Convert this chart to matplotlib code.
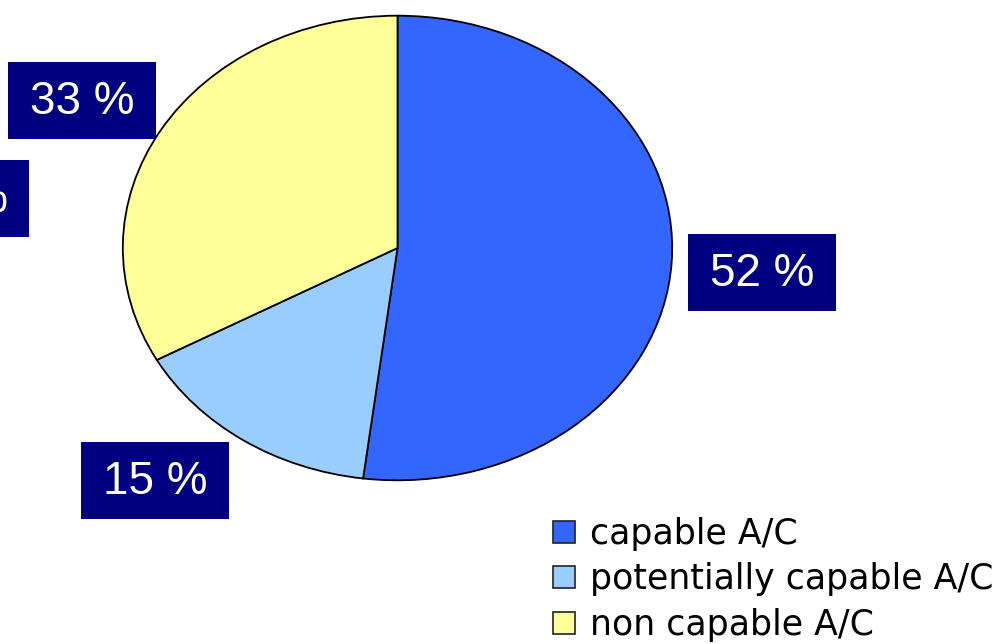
import matplotlib.pyplot as plt
from matplotlib.patches import Rectangle

# share of aircraft by capability
categories = ['capable A/C', 'potentially capable A/C', 'non capable A/C']
shares = [52, 15, 33]
colors = ['#3366FF', '#99CCFF', '#FFFF99']

W, H = 996, 644
fig = plt.figure(figsize=(W / 100, H / 100), dpi=100)

# pie is drawn into a wide axes with free aspect, so it comes out elliptical
ax = fig.add_axes([122 / W, 163 / H, 551 / W, 466 / H])
wedges, _ = ax.pie(shares, colors=colors, startangle=90, counterclock=False,
                   radius=1.0,
                   wedgeprops=dict(edgecolor='black', linewidth=1.3))
ax.set_aspect('auto')
ax.set_xlim(-1.003, 1.003)
ax.set_ylim(-1.003, 1.003)
ax.axis('off')

# data label boxes (pixel positions: left, top)
box_w, box_h = 148, 77
label_pos = [(688, 234), (81, 442), (8, 62)]


def label_box(left, top, text, ha='center'):
    bottom = H - top - box_h
    fig.patches.append(Rectangle((left / W, bottom / H), box_w / W, box_h / H,
                                 transform=fig.transFigure,
                                 facecolor='#000080', edgecolor='none'))
    if ha == 'center':
        x = (left + box_w / 2) / W
    else:
        x = (left + box_w - 21) / W
    fig.text(x, (bottom + box_h / 2 - 1) / H, text, ha=ha, va='center',
             color='white', fontsize=33, family='Liberation Sans')


for (left, top), val in zip(label_pos, shares):
    label_box(left, top, f'{val} %')

# label of an empty slice, pushed off the left edge
label_box(29 - box_w, 160, '0 %', ha='right')

leg = fig.legend(wedges, categories, loc='upper left',
                 bbox_to_anchor=(553 / W, (H - 517) / H),
                 frameon=False, prop=dict(family='DejaVu Sans', size=25),
                 handlelength=0.64, handleheight=0.6, handletextpad=0.42,
                 labelspacing=0.33, borderpad=0, borderaxespad=0)
for h in leg.legend_handles:
    h.set_edgecolor('#222222')
    h.set_linewidth(1.2)

fig.savefig('out.png', dpi=100)
